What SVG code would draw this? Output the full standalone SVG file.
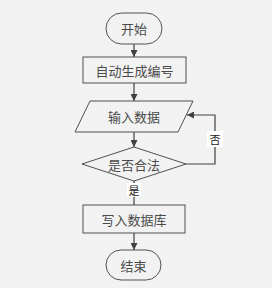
<svg xmlns="http://www.w3.org/2000/svg" width="272" height="288" viewBox="0 0 272 288">
<style>
.s{fill:#f2f2f2;stroke:#505050;stroke-width:1}
.t{font-family:"Noto Sans CJK SC",sans-serif;font-size:13px;fill:#4a4a4a;text-anchor:middle;dominant-baseline:central}
.l{font-family:"Noto Sans CJK SC",sans-serif;font-size:11px;fill:#202020;text-anchor:middle;dominant-baseline:central}
.c{fill:none;stroke:#404040;stroke-width:1.2}
</style>
<defs>
<marker id="a" viewBox="0 0 10 10" refX="10" refY="5" markerWidth="7" markerHeight="7" markerUnits="userSpaceOnUse" orient="auto">
<path d="M0,0L10,5L0,10z" fill="#404040"/>
</marker>
</defs>
<rect width="272" height="288" fill="#f2f2f2"/>
<g id="connectors">
<path class="c" d="M134,44V57" marker-end="url(#a)"/>
<path class="c" d="M134,83V101" marker-end="url(#a)"/>
<path class="c" d="M134,132V147" marker-end="url(#a)"/>
<path class="c" d="M134,181V205"/>
<path class="c" d="M186,164H215V115H187" marker-end="url(#a)"/>
<path class="c" d="M134,233V250" marker-end="url(#a)"/>
<rect x="207" y="131" width="16" height="16" fill="#ffffff"/>
<text class="l" x="215" y="139">否</text>
<rect x="127" y="183" width="14" height="14" fill="#ffffff"/>
<text class="l" x="134" y="190">是</text>
</g>
<g id="start">
<rect class="s" x="106" y="13" width="56" height="31" rx="15.5"/>
<text class="t" x="134" y="28.5">开始</text>
</g>
<g id="gen">
<rect class="s" x="83" y="57" width="103" height="26"/>
<text class="t" x="134.5" y="70">自动生成编号</text>
</g>
<g id="input">
<polygon class="s" points="90,101 193,101 178,132 75,132"/>
<text class="t" x="134" y="116.5">输入数据</text>
</g>
<g id="check">
<polygon class="s" points="134,147 186,164 134,181 82,164"/>
<text class="t" x="134" y="164">是否合法</text>
</g>
<g id="write">
<rect class="s" x="83" y="205" width="102" height="28"/>
<text class="t" x="134" y="219">写入数据库</text>
</g>
<g id="end">
<rect class="s" x="106" y="250" width="55" height="30" rx="15"/>
<text class="t" x="133.5" y="265">结束</text>
</g>
</svg>
